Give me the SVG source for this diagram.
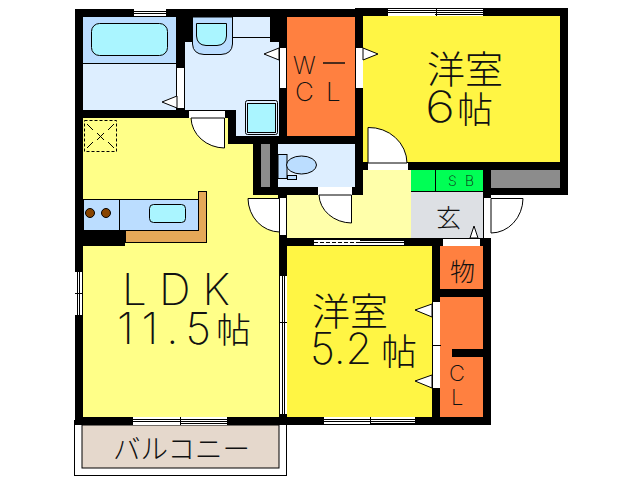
<svg xmlns="http://www.w3.org/2000/svg" width="638" height="480" viewBox="0 0 638 480">
<style>
.ln{stroke:#000;stroke-width:1}
.cr{shape-rendering:crispEdges}
.w{fill:#fff}
.nl{fill:none;stroke:#000;stroke-width:1}
.door{fill:#fff;stroke:#000;stroke-width:1}
.t{font-family:"Noto Sans CJK JP","DejaVu Sans",sans-serif;font-weight:300;fill:#111}
.l{font-family:"Inter","Lato","Liberation Sans",sans-serif;font-weight:200;fill:#111}
</style>
<rect width="638" height="480" fill="#fff"/>
<g id="balcony">
<rect x="74.500" y="420.500" width="212" height="55" fill="#fff" stroke="#000"/>
<rect x="82" y="425" width="197" height="43" fill="#e5d8cc" stroke="#000"/>
<text class="t" x="113" y="459" font-size="27.500" textLength="137">バルコニー</text>
</g>
<g id="walls">
<polygon points="75,9 355,9 355,8 568,8 568,195 491,195 491,425 75,425" fill="#000"/>
</g>
<g id="ldk">
<polygon class="cr" points="83,118 228,118 228,144 253,144 253,195 278,195 278,198 279,198 279,417 83,417" fill="#ffff88"/>
<text class="l" x="122" y="305" font-size="44" textLength="108">LDK</text>
<text class="l" x="117" y="344" font-size="44" textLength="94" lengthAdjust="spacing">11.5</text>
<text class="t" x="216" y="343" font-size="35">帖</text>
</g>
<g id="kitchen">
<rect x="84.500" y="120.500" width="32" height="31" fill="none" stroke="#000" stroke-dasharray="3 2"/>
<path class="nl" d="M87 124l6 6M114 124l-6 6M87 148l6-6M114 148l-6-6M97 133l7 7M104 133l-7 7"/>
<rect class="cr" x="83" y="199" width="115" height="31" fill="#bbddff" stroke="#000"/>
<path class="cr" d="M198 191h8v51h-81v-12h73z" fill="#e5a858" stroke="#000"/>
<rect class="cr" x="83" y="230" width="42" height="16" fill="#000"/>
<path class="nl cr" d="M119.500 199v31"/>
<circle cx="90" cy="213" r="4.500" fill="#884400" stroke="#000"/>
<circle cx="106" cy="213" r="4.500" fill="#884400" stroke="#000"/>
<rect x="149.500" y="204.500" width="36" height="18" rx="4" fill="#aaf5ff" stroke="#000"/>
</g>
<g id="bath">
<rect class="cr" x="83" y="17" width="93" height="46" fill="#bbddff"/>
<rect class="cr" x="83" y="63" width="93" height="47" fill="#ddeeff"/>
<path class="nl cr" d="M83 63.500h93"/>
<rect x="91.500" y="23.500" width="76" height="32" rx="8" fill="#aaf5ff" stroke="#000"/>
</g>
<g id="washroom">
<polygon class="cr" points="193,17 270,17 270,42 279,42 279,136 236,136 236,110 225,110 185,110 185,42 193,42" fill="#ddeeff"/>
<path d="M192.500 17V44Q193 54 204 54.500H221Q232 54 232.500 44V17Z" fill="#bbddff" stroke="#000"/>
<path d="M196.500 23.500V36Q197 45 206 45.500H217Q226 45 226.500 36V23.500Z" fill="#aaf5ff" stroke="#000"/>
<path class="nl cr" d="M232 37.500h38"/>
<rect x="245.500" y="100.500" width="32" height="34" rx="2" fill="#ddeeff" stroke="#000"/>
<rect x="247.500" y="103.500" width="28" height="29" fill="#aaf5ff" stroke="#000"/>
</g>
<g id="wcl">
<rect class="cr" x="287" y="17" width="68" height="119" fill="#ff8040"/>
<text class="l" x="293" y="74" font-size="24">W</text>
<path d="M323 63h22" stroke="#111" stroke-width="1.500"/>
<text class="l" x="295" y="101" font-size="26">C</text>
<text class="l" x="326" y="101" font-size="26">L</text>
</g>
<g id="room6">
<rect class="cr" x="363" y="16" width="197" height="146" fill="#fff544"/>
<text class="t" x="427" y="83" font-size="38">洋室</text>
<text class="l" x="425" y="122" font-size="43" textLength="30" lengthAdjust="spacingAndGlyphs">6</text>
<text class="t" x="457" y="123" font-size="36">帖</text>
</g>
<g id="toilet">
<rect class="cr" x="278" y="144" width="77" height="43" fill="#ddeeff"/>
<rect class="cr" x="261" y="144" width="9" height="43" fill="#8c8c8c"/>
<rect x="278" y="154.500" width="9" height="24" fill="#bbddff" stroke="#000"/>
<ellipse cx="301.500" cy="165" rx="15" ry="9" fill="#bbddff" stroke="#000"/>
<rect x="287.500" y="175.500" width="9" height="4" fill="#bbddff" stroke="#000"/>
</g>
<g id="hall">
<polygon class="cr" points="363,170 411,170 411,238 287,238 287,195 363,195" fill="#ffffaa"/>
</g>
<g id="sb">
<rect class="cr" x="411" y="170" width="72" height="21" fill="#00ff55"/>
<path class="nl cr" d="M435.500 170v21M411 191.500h72"/>
<text class="l" x="448" y="186" font-size="14">S</text>
<text class="l" x="465" y="186" font-size="14">B</text>
<rect class="cr" x="491" y="170" width="69" height="18" fill="#8c8c8c"/>
</g>
<g id="genkan">
<rect class="cr" x="411" y="192" width="72" height="46" fill="#dde0e4"/>
<text class="t" x="436" y="227" font-size="25">玄</text>
</g>
<g id="room52">
<rect class="cr" x="287" y="246" width="145" height="171" fill="#fff544"/>
<text class="t" x="312" y="325" font-size="38">洋室</text>
<text class="l" x="310" y="364" font-size="43">5.2</text>
<text class="t" x="381" y="365" font-size="36">帖</text>
</g>
<g id="storage">
<rect class="cr" x="440" y="246" width="43" height="43" fill="#ff8040"/>
<text class="t" x="450" y="281" font-size="25">物</text>
</g>
<g id="cl">
<rect class="cr" x="440" y="297" width="43" height="120" fill="#ff8040"/>
<rect class="cr" x="452" y="349" width="31" height="8" fill="#000"/>
<text class="l" x="449" y="381" font-size="22">C</text>
<text class="l" x="451" y="405" font-size="22">L</text>
</g>
<g id="connectors">
<g id="windows" class="cr">
<rect class="w" x="134" y="9" width="32" height="7"/><path class="nl" d="M134 11.500h32M134 13.500h32"/>
<rect class="w" x="388" y="9" width="95" height="7"/><path class="nl" d="M388 10.500h95M388 12.500h95M435 14.500h48M436 9v7"/>
<rect class="w" x="75" y="272" width="7" height="43"/><path class="nl" d="M77.500 272v43M79.500 272v43M75 293.500h7"/>
<rect class="w" x="133" y="417" width="94" height="8"/><path class="nl" d="M133 419.500h94M133 421.500h94M180 423.500h47M180 417v8"/>
<rect class="w" x="324" y="417" width="91" height="7"/><path class="nl" d="M324 419.500h91M324 421.500h91M370 423.500h45M370 417v7"/>
<rect class="w" x="314" y="240" width="90" height="5"/><path d="M314 242.500h46" stroke="#000" stroke-dasharray="4 2"/><path class="nl" d="M360 242.500h44M360 240.500h44M404.500 238v8"/>
<rect class="w" x="280" y="276" width="7" height="138"/><path class="nl" d="M282.500 276v138M284.500 276v138M280 322.500h7M282.500 368v-12"/>
</g>
<g id="doors">
<rect class="w cr" x="177" y="68" width="7" height="40"/>
<path class="door" d="M177 108V96L162 102Z"/>
<rect class="w cr" x="189" y="111" width="36" height="7"/>
<path class="door" d="M191 118A34 31 0 0 0 224.500 148V118Z"/>
<rect class="w cr" x="280" y="48" width="6" height="40"/>
<path class="door" d="M279 60V48L264 54Z"/>
<rect class="w cr" x="356" y="48" width="7" height="40"/>
<path class="door" d="M363 48V60L378 54Z"/>
<rect class="w cr" x="368" y="163" width="40" height="7"/>
<path class="door" d="M368 127.500A38 36 0 0 1 407 163H368Z"/>
<rect class="w cr" x="318" y="187" width="34" height="8"/>
<path class="door" d="M319 195A33 29 0 0 0 351.500 223V195Z"/>
<rect class="w cr" x="280" y="198" width="6" height="37"/>
<path class="door" d="M248 198.500A32 34 0 0 0 279.500 232V198.500Z"/>
<rect class="w cr" x="484" y="198" width="7" height="40"/>
<path class="door" d="M491 198.500H523A32 35 0 0 1 491 233Z"/>
<rect class="w cr" x="443" y="239" width="37" height="7"/>
<path class="door" d="M470 238L474 226L478 238Z"/>
<rect class="w cr" x="433" y="302" width="7" height="86"/>
<path class="nl cr" d="M433 345.500h8"/>
<path class="door" d="M432 304V317L415 310Z"/>
<path class="door" d="M432 375V388L415 381Z"/>
</g>
</g>
</svg>
